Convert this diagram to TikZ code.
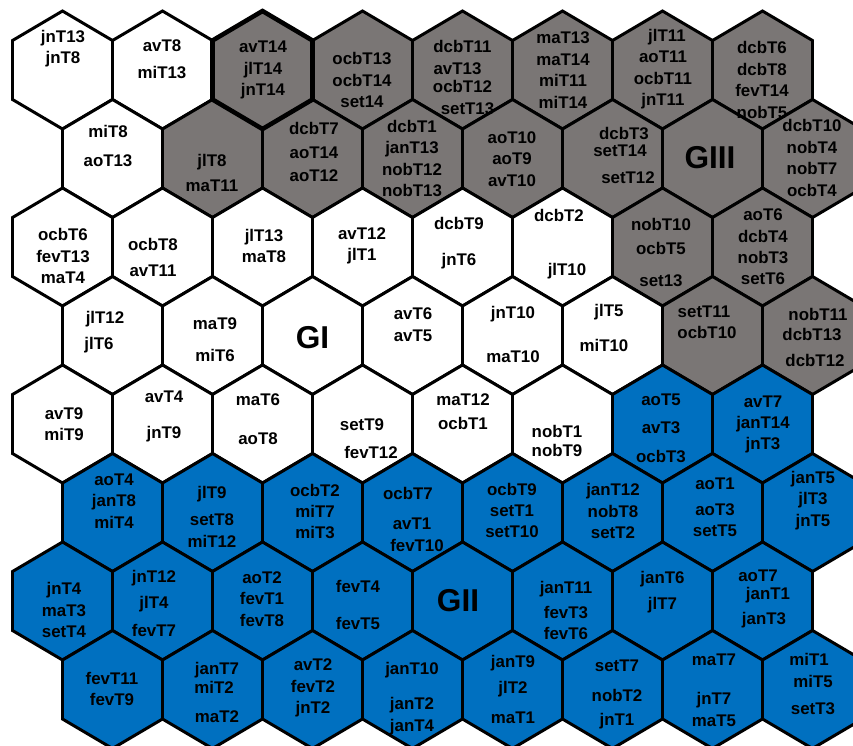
\documentclass[tikz,border=0pt]{standalone}
\usepackage{fontspec}
\setmainfont{Liberation Sans}
\definecolor{cellW}{RGB}{255,255,255}
\definecolor{cellG}{RGB}{122,118,117}
\definecolor{cellB}{RGB}{0,112,192}
\newdimen\pxu \pxu=0.569pt
\newcommand{\nudge}[2]{\makebox[0pt]{\hspace*{#1\pxu}\hspace*{#1\pxu}#2}}
\tikzset{
  hexcell/.style={draw=black, line width=1.7pt, line join=miter},
  celltext/.style={align=center, inner sep=0pt, text=black, font=\bfseries\fontsize{9.6}{12.2}\selectfont},
  grouptext/.style={inner sep=0pt, text=black, font=\bfseries\fontsize{18}{20}\selectfont}
}

\begin{document}
\begin{tikzpicture}[x=0.02cm, y=-0.02cm]
        \clip (0,0) rectangle (853,745);
        \fill[white] (0,0) rectangle (853,745);
        % hexagon grid, one colour list per row
        \foreach \ri/\row in {0/{W,W,G,G,G,G,G,G},1/{W,G,G,G,G,G,G,G},2/{W,W,W,W,W,W,G,G},3/{W,W,W,W,W,W,G,G},
                              4/{W,W,W,W,W,W,B,B},5/{B,B,B,B,B,B,B,B},6/{B,B,B,B,B,B,B,B},7/{B,B,B,B,B,B,B,B}}
          \foreach \k [count=\ci from 0] in \row {
            \pgfmathsetmacro{\hx}{62.5+100*\ci+50*mod(\ri,2)}
            \pgfmathsetmacro{\hy}{70+88.5*\ri}
            \draw[hexcell, fill=cell\k] (\hx,\hy) +(0,-59) -- +(50,-29.5) -- +(50,29.5) -- +(0,59) -- +(-50,29.5) -- +(-50,-29.5) -- cycle;
          }
        \draw[hexcell, line width=2.6pt] (262.5,70) +(0,-59) -- +(50,-29.5) -- +(50,29.5) -- +(0,59) -- +(-50,29.5) -- +(-50,-29.5) -- cycle;
        % row 0
        \node[celltext] (l00) at (63,48.5) {jnT13\\jnT8};
        \node[celltext] (l01) at (162,59.5) {avT8\\[5.5\pxu]miT13};
        \node[celltext] (l02) at (263,70) {avT14\\jlT14\\jnT14};
        \node[celltext] (l03) at (362,80) {ocbT13\\ocbT14\\set14};
        \node[celltext] (l04) at (462.5,77.5) {dcbT11\\\nudge{-5}{avT13}\\[-2.5\pxu]ocbT12\\\nudge{5}{setT13}};
        \node[celltext] (l05) at (563,70) {maT13\\maT14\\miT11\\miT14};
        \node[celltext] (l06) at (663,69) {\nudge{4}{jlT11}\\aoT11\\ocbT11\\jnT11};
        \node[celltext] (l07) at (762,80) {dcbT6\\dcbT8\\fevT14\\nobT5};
        % row 1
        \node[celltext] (l10) at (108,146) {miT8\\[8.5\pxu]aoT13};
        \node[celltext] (l11) at (212,172.5) {jlT8\\[3.5\pxu]maT11};
        \node[celltext] (l12) at (314,152) {dcbT7\\[2.5\pxu]aoT14\\[2.5\pxu]aoT12};
        \node[celltext] (l13) at (412,158.5) {dcbT1\\janT13\\nobT12\\nobT13};
        \node[celltext] (l14) at (512,159) {aoT10\\aoT9\\avT10};
        \node[celltext] (l15) at (624,155.5) {dcbT3\\[-4.5\pxu]\nudge{-4}{setT14}\\[6.5\pxu]\nudge{4}{setT12}};
        \node[grouptext] (gIII) at (710,158) {GIII};
        \node[celltext] (l17) at (812,158) {dcbT10\\nobT4\\nobT7\\ocbT4};
        % row 2
        \node[celltext] (l20) at (63,256) {ocbT6\\fevT13\\maT4};
        \node[celltext] (l21) at (153,257) {ocbT8\\[4.5\pxu]avT11};
        \node[celltext] (l22) at (264,246) {jlT13\\maT8};
        \node[celltext] (l23) at (362,246) {avT12\\jlT1};
        \node[celltext] (l24) at (459,243) {dcbT9\\[14.5\pxu]jnT6};
        \node[celltext] (l25) at (563,244) {\nudge{-4}{dcbT2}\\[32.5\pxu]\nudge{4}{jlT10}};
        \node[celltext] (l26) at (661,252.5) {nobT10\\[2.5\pxu]ocbT5\\[11.5\pxu]set13};
        \node[celltext] (l27) at (763,247) {aoT6\\dcbT4\\nobT3\\setT6};
        % row 3
        \node[celltext] (l30) at (102,332) {\nudge{3}{jlT12}\\[4.5\pxu]\nudge{-3}{jlT6}};
        \node[celltext] (l31) at (215,340) {maT9\\[10.5\pxu]miT6};
        \node[grouptext] (gI) at (312.5,338) {GI};
        \node[celltext] (l33) at (413,324.5) {avT6\\avT5};
        \node[celltext] (l34) at (513,334) {jnT10\\[22.5\pxu]maT10};
        \node[celltext] (l35) at (606,327.5) {\nudge{3}{jlT5}\\[13.5\pxu]\nudge{-2}{miT10}};
        \node[celltext] (l36) at (707,322.5) {\nudge{-3}{setT11}\\ocbT10};
        \node[celltext] (l37) at (815,337.5) {\nudge{3}{nobT11}\\[-1.5\pxu]\nudge{-3}{dcbT13}\\[5.5\pxu]dcbT12};
        % row 4
        \node[celltext] (l40) at (64,424) {avT9\\miT9};
        \node[celltext] (l41) at (164,416) {avT4\\[14.5\pxu]jnT9};
        \node[celltext] (l42) at (258,419.5) {maT6\\[17.5\pxu]aoT8};
        \node[celltext] (l43) at (366.5,439) {\nudge{-4.5}{setT9}\\[6.5\pxu]\nudge{4.5}{fevT12}};
        \node[celltext] (l44) at (463,412) {maT12\\[2.5\pxu]ocbT1};
        \node[celltext] (l45) at (557,440.5) {nobT1\\[-2.5\pxu]nobT9};
        \node[celltext] (l46) at (661,428.5) {aoT5\\[6.5\pxu]avT3\\[7.5\pxu]ocbT3};
        \node[celltext] (l47) at (763,424.5) {avT7\\janT14\\jnT3};
        % row 5
        \node[celltext] (l50) at (114,501) {aoT4\\janT8\\miT4};
        \node[celltext] (l51) at (212,517) {jlT9\\[5.5\pxu]setT8\\miT12};
        \node[celltext] (l52) at (315,511.5) {ocbT2\\miT7\\miT3};
        \node[celltext] (l53) at (412,519.5) {\nudge{-4}{ocbT7}\\[8.5\pxu]avT1\\\nudge{5}{fevT10}};
        \node[celltext] (l54) at (512,510.5) {ocbT9\\setT1\\setT10};
        \node[celltext] (l55) at (613,511) {janT12\\nobT8\\setT2};
        \node[celltext] (l56) at (715,507.5) {aoT1\\[4.5\pxu]aoT3\\setT5};
        \node[celltext] (l57) at (813,500.5) {janT5\\jlT3\\jnT5};
        % row 6
        \node[celltext] (l60) at (64,610) {jnT4\\maT3\\setT4};
        \node[celltext] (l61) at (154,603.5) {jnT12\\[4.5\pxu]jlT4\\[7.5\pxu]fevT7};
        \node[celltext] (l62) at (262,599) {aoT2\\fevT1\\fevT8};
        \node[celltext] (l63) at (358,604.5) {fevT4\\[15.5\pxu]fevT5};
        \node[grouptext] (gII) at (458,601) {GII};
        \node[celltext] (l65) at (566,610.5) {janT11\\[3.5\pxu]fevT3\\fevT6};
        \node[celltext] (l66) at (662.5,592) {janT6\\[4.5\pxu]jlT7};
        \node[celltext] (l67) at (764,599) {\nudge{-6}{aoT7}\\[-3.5\pxu]\nudge{4}{janT1}\\[4.5\pxu]janT3};
        % row 7
        \node[celltext] (l70) at (112,689) {fevT11\\fevT9};
        \node[celltext] (l71) at (217,692.5) {janT7\\[-2.5\pxu]\nudge{-3}{miT2}\\[8.5\pxu]maT2};
        \node[celltext] (l72) at (313,688) {avT2\\fevT2\\jnT2};
        \node[celltext] (l73) at (412,698.5) {janT10\\[13.5\pxu]janT2\\janT4};
        \node[celltext] (l74) at (513,689.5) {janT9\\[4.5\pxu]jlT2\\[9.5\pxu]maT1};
        \node[celltext] (l75) at (617,694.5) {setT7\\[8.5\pxu]nobT2\\[3.5\pxu]jnT1};
        \node[celltext] (l76) at (714,690) {maT7\\[18.5\pxu]jnT7\\maT5};
        \node[celltext] (l77) at (813,684) {\nudge{-4}{miT1}\\miT5\\[5.5\pxu]setT3};
      \end{tikzpicture}
\end{document}
